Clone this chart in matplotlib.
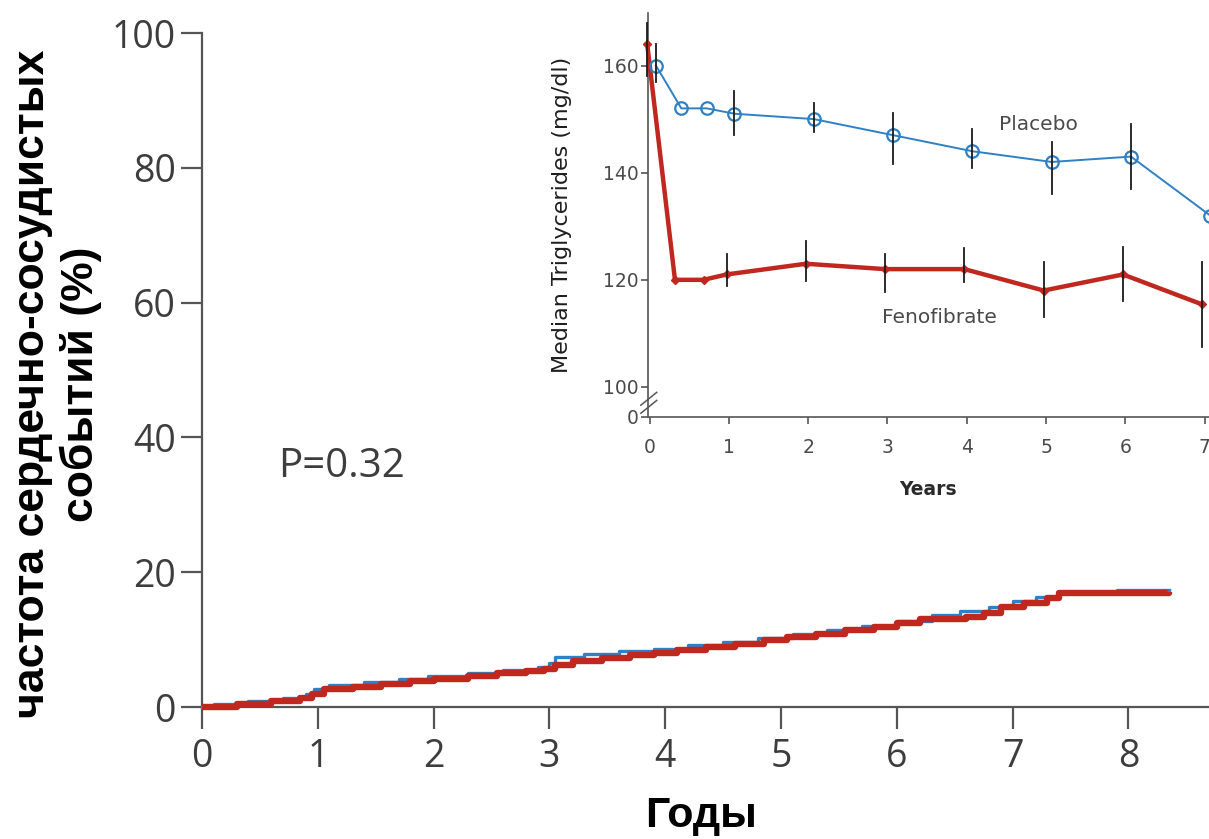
import matplotlib
matplotlib.use("Agg")
import matplotlib.pyplot as plt

# ---- Kaplan-Meier style cumulative event rates (%), step curves ----
placebo_t = [0, 0.1, 0.4, 0.7, 0.9, 0.97, 1.1, 1.4, 1.7, 1.95, 2.3, 2.6, 2.9, 3.0,
             3.05, 3.3, 3.6, 3.9, 4.2, 4.5, 4.8, 5.1, 5.4, 5.7, 6.0, 6.3, 6.55,
             6.8, 7.0, 7.2, 7.4, 7.9, 8.35]
placebo_v = [0, 0.5, 0.9, 1.4, 2.0, 2.7, 3.2, 3.7, 4.1, 4.6, 5.0, 5.5, 5.9, 6.6,
             7.4, 7.9, 8.3, 8.6, 9.2, 9.7, 10.3, 10.9, 11.4, 12.0, 12.8, 13.6, 14.2,
             14.9, 15.7, 16.3, 17.0, 17.4, 17.4]

feno_t = [0, 0.3, 0.6, 0.85, 0.95, 1.05, 1.3, 1.55, 1.8, 2.0, 2.3, 2.55, 2.8, 2.95,
          3.05, 3.2, 3.45, 3.7, 3.9, 4.1, 4.35, 4.6, 4.85, 5.05, 5.3, 5.55, 5.8,
          6.0, 6.2, 6.6, 6.75, 6.9, 7.1, 7.3, 7.4, 8.35]
feno_v = [0, 0.4, 0.9, 1.4, 2.0, 2.6, 3.0, 3.4, 3.8, 4.2, 4.6, 5.0, 5.3, 5.6,
          6.3, 6.8, 7.3, 7.7, 8.0, 8.4, 8.9, 9.4, 9.9, 10.4, 10.9, 11.4, 11.9,
          12.4, 13.0, 13.4, 14.0, 14.8, 15.5, 16.2, 16.9, 17.0]

main_xticks = [0, 1, 2, 3, 4, 5, 6, 7, 8]
main_yticks = [0, 20, 40, 60, 80, 100]
p_text = "P=0.32"

# ---- Median triglycerides (mg/dl) ----
tg_placebo_x = [0.08, 0.40, 0.72, 1.07, 2.07, 3.07, 4.07, 5.07, 6.07, 7.07]
tg_placebo = [160, 152, 152, 151, 150, 147, 144, 142, 143, 132]
tg_placebo_lo = [157, None, None, 147, 147.5, 141.7, 140.8, 136.1, 137.0, 122]
tg_placebo_hi = [164, None, None, 155.3, 153.0, 151.1, 148.1, 145.8, 149.1, 149]

tg_feno_x = [-0.03, 0.32, 0.68, 0.97, 1.97, 2.97, 3.97, 4.97, 5.97, 6.97]
tg_feno = [164, 120, 120, 121, 123, 122, 122, 118, 121, 115.4]
tg_feno_lo = [158, None, None, 118.8, 119.8, 117.8, 119.6, 113.0, 116.0, 107.4]
tg_feno_hi = [168, None, None, 124.9, 127.3, 124.9, 125.9, 123.3, 126.1, 123.3]

inset_xticks = [0, 1, 2, 3, 4, 5, 6, 7]
inset_yticks = [100, 120, 140, 160]

BLUE = "#2f80c4"
RED = "#c0281f"
AX_GREY = "#555555"
TXT_GREY = "#3d3d3d"
MAIN_FONT = ["Open Sans", "DejaVu Sans"]
BOLD_FONT = ["Liberation Sans", "DejaVu Sans"]
INSET_FONT = ["DejaVu Sans"]

W, H = 1209, 839
fig = plt.figure(figsize=(W / 100, H / 100), dpi=100)

# ---------------- main panel ----------------
px_per_year = 115.8
x_left, y_bottom, y_top = 202, 707, 33
main_xmax = 8.75
ax_w_px = main_xmax * px_per_year
ax = fig.add_axes([x_left / W, (H - y_bottom) / H,
                   ax_w_px / W, (y_bottom - y_top) / H])
ax.set_xlim(0, main_xmax)
ax.set_ylim(0, 100)
ax.patch.set_alpha(0)

ax.step(placebo_t, placebo_v, where="post", color=BLUE, lw=2.4,
        clip_on=False, zorder=3)
ax.step(feno_t, feno_v, where="post", color=RED, lw=4.6,
        clip_on=False, zorder=4, solid_capstyle="butt")

for s in ["top", "right"]:
    ax.spines[s].set_visible(False)
for s in ["left", "bottom"]:
    ax.spines[s].set_color(AX_GREY)
    ax.spines[s].set_linewidth(1.6)

ax.set_xticks(main_xticks)
ax.set_yticks(main_yticks)
ax.tick_params(axis="both", direction="out", color=AX_GREY, width=1.6,
               labelcolor=TXT_GREY, labelsize=27)
ax.tick_params(axis="x", length=16, pad=6)
ax.tick_params(axis="y", length=15, pad=4)
for lab in ax.get_xticklabels() + ax.get_yticklabels():
    lab.set_family(MAIN_FONT)

ax.set_ylabel("частота сердечно-сосудистых\nсобытий (%)",
              family=BOLD_FONT, fontweight="bold",
              fontsize=32, color="black", linespacing=1.2)
ax.yaxis.set_label_coords(-(x_left - 102) / ax_w_px,
                          (y_bottom - 384) / (y_bottom - y_top))
ax.set_xlabel("Годы", family=BOLD_FONT, fontweight="bold", fontsize=31,
              color="black")
ax.xaxis.set_label_coords((701 - x_left) / ax_w_px,
                          -(816 - y_bottom) / (y_bottom - y_top))
ax.xaxis.label.set_va("center")

ax.text(0.655, 35.6, p_text, fontsize=29, color=TXT_GREY,
        family=MAIN_FONT, va="center", ha="left")

# ---------------- inset panel ----------------
in_x0, in_ybot, in_ytop = 648, 417, 13
in_px_per_year = 79.3
in_xlim = (-0.02, 7.6)
in_ylim = (94.4, 169.8)
in_w_px = (in_xlim[1] - in_xlim[0]) * in_px_per_year
in_h_px = in_ybot - in_ytop
ins = fig.add_axes([in_x0 / W, (H - in_ybot) / H, in_w_px / W, in_h_px / H])
ins.set_xlim(*in_xlim)
ins.set_ylim(*in_ylim)
ins.patch.set_alpha(0)


def bars(xs, lo, hi):
    for x, a, b in zip(xs, lo, hi):
        if a is None:
            continue
        ins.plot([x, x], [a, b], color="#1a1a1a", lw=1.3, zorder=5,
                 clip_on=False)


ins.plot(tg_placebo_x, tg_placebo, color=BLUE, lw=1.4, marker="o",
         markersize=9, markerfacecolor="none", markeredgecolor=BLUE,
         markeredgewidth=1.6, zorder=4, clip_on=False)
ins.plot(tg_feno_x, tg_feno, color=RED, lw=3.2, marker="D", markersize=4,
         markerfacecolor=RED, markeredgecolor=RED, zorder=3, clip_on=False)
bars(tg_placebo_x, tg_placebo_lo, tg_placebo_hi)
bars(tg_feno_x, tg_feno_lo, tg_feno_hi)

for s in ["top", "right"]:
    ins.spines[s].set_visible(False)
for s in ["left", "bottom"]:
    ins.spines[s].set_color(AX_GREY)
    ins.spines[s].set_linewidth(1.2)

ins.set_xticks(inset_xticks)
ins.set_yticks([in_ylim[0]] + inset_yticks)
ins.set_yticklabels(["0"] + [str(v) for v in inset_yticks])
ins.tick_params(axis="both", direction="out", color=AX_GREY, width=1.2,
                length=5, labelcolor="#4a4a4a", labelsize=13.5, pad=2)
ins.tick_params(axis="x", pad=10)
for lab in ins.get_xticklabels() + ins.get_yticklabels():
    lab.set_family(INSET_FONT)

# axis break marks on the y axis
for yb in (96.3, 97.8):
    ins.plot([-0.11, 0.09], [yb - 1.2, yb + 1.2], color=AX_GREY, lw=1.1,
             clip_on=False, zorder=6)

ins.set_ylabel("Median Triglycerides (mg/dl)", fontsize=16,
               color="#1e1e1e", family=INSET_FONT)
ins.yaxis.set_label_coords(-(in_x0 - 572) / in_w_px,
                           (in_ybot - 215) / in_h_px)
ins.set_xlabel("Years", fontsize=13.5, fontweight="bold", color="#2a2a2a",
               family=INSET_FONT)
ins.xaxis.set_label_coords((928 - in_x0) / in_w_px,
                           -(490 - in_ybot) / in_h_px)
ins.xaxis.label.set_va("center")

ins.text(4.9, 148.9, "Placebo", fontsize=14.5, color="#4a4a4a",
         family=INSET_FONT, ha="center", va="center")
ins.text(3.66, 113.0, "Fenofibrate", fontsize=14.5, color="#4a4a4a",
         family=INSET_FONT, ha="center", va="center")

fig.savefig("out.png", dpi=100, facecolor="white")
